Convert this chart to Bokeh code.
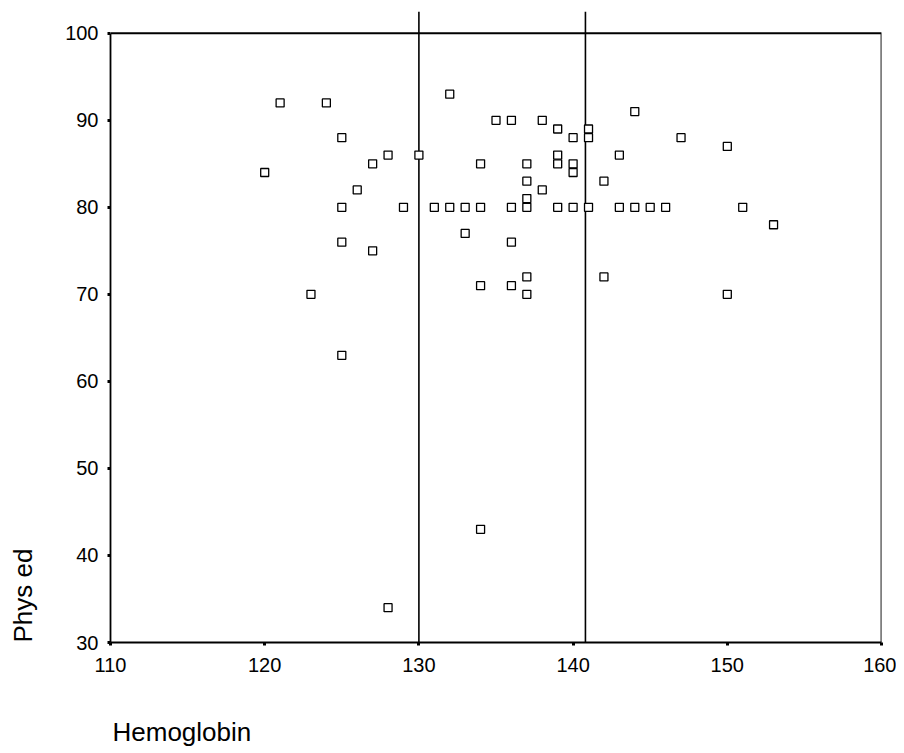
from bokeh.plotting import figure
from bokeh.models import Range1d, Title, FixedTicker
from bokeh.embed import file_html
from bokeh.resources import INLINE

hemoglobin = [120, 121, 123, 124, 125, 125, 125, 125, 126, 127, 127, 128, 128, 129, 130,
              131, 132, 132, 133, 133, 134, 134, 134, 134, 135, 136, 136, 136, 136,
              137, 137, 137, 137, 137, 137, 138, 138, 139, 139, 139, 139,
              140, 140, 140, 140, 141, 141, 141, 142, 142, 143, 143, 144, 144,
              145, 146, 147, 150, 150, 151, 153]
phys_ed = [84, 92, 70, 92, 88, 80, 76, 63, 82, 85, 75, 86, 34, 80, 86,
           80, 93, 80, 80, 77, 85, 80, 71, 43, 90, 90, 80, 76, 71,
           85, 83, 81, 80, 72, 70, 90, 82, 89, 86, 85, 80,
           88, 85, 84, 80, 89, 88, 80, 83, 72, 86, 80, 91, 80,
           80, 80, 88, 87, 70, 80, 78]
ref_lines_x = [130, 140.8]
x_ticks = [110, 120, 130, 140, 150, 160]
y_ticks = [30, 40, 50, 60, 70, 80, 90, 100]
x_label = "Hemoglobin"
y_label = "Phys ed"

X0, X1 = 110, 160
Y0, Y1 = 30, 100
Y_TOP = 102.5

FONT = "Liberation Sans"

p = figure(width=896, height=752, output_backend="svg", toolbar_location=None,
           x_range=Range1d(X0, X1), y_range=Range1d(Y0, Y_TOP),
           min_border_left=110, min_border_right=15, min_border_top=11, min_border_bottom=110)
p.outline_line_color = None
p.xgrid.visible = False
p.ygrid.visible = False
p.background_fill_color = "white"
p.border_fill_color = "white"

for ax, ticks in ((p.xaxis, x_ticks), (p.yaxis, y_ticks)):
    ax.ticker = FixedTicker(ticks=ticks)
    ax.minor_tick_line_color = None
    ax.major_tick_in = 0
    ax.major_tick_out = 3
    ax.major_tick_line_width = 3
    ax.major_tick_line_color = "black"
    ax.axis_line_color = "black"
    ax.axis_line_width = 1.8
    ax.major_label_text_font = FONT
    ax.major_label_text_font_size = "20px"
    ax.major_label_text_color = "black"

p.xaxis.bounds = (X0, X1)
p.yaxis.bounds = (Y0, Y1)
p.xaxis.major_label_standoff = 12
p.yaxis.major_label_standoff = 9

# frame border (top and right)
p.line(x=[X0, X1, X1], y=[Y1, Y1, Y0], line_color="black", line_width=1.8)

# reference lines
p.segment(x0=ref_lines_x, y0=[Y0] * len(ref_lines_x), x1=ref_lines_x,
          y1=[Y_TOP] * len(ref_lines_x), line_color="black", line_width=1.6)

p.scatter(x=hemoglobin, y=phys_ed, marker="square", size=8,
          fill_color="white", line_color="black", line_width=1.3)

# spacers + axis titles (titles stack outward from the axes)
p.add_layout(Title(text=" ", standoff=25, text_font_size="10px"), "below")
p.add_layout(Title(text=x_label, align="left", offset=2, standoff=4,
                   text_font=FONT, text_font_size="26px", text_font_style="normal",
                   text_color="black"), "below")
p.add_layout(Title(text=" ", standoff=10, text_font_size="10px"), "left")
p.add_layout(Title(text=y_label, align="left", offset=0, standoff=4,
                   text_font=FONT, text_font_size="26px", text_font_style="normal",
                   text_color="black"), "left")

open("out.html", "w").write(file_html(p, INLINE))
